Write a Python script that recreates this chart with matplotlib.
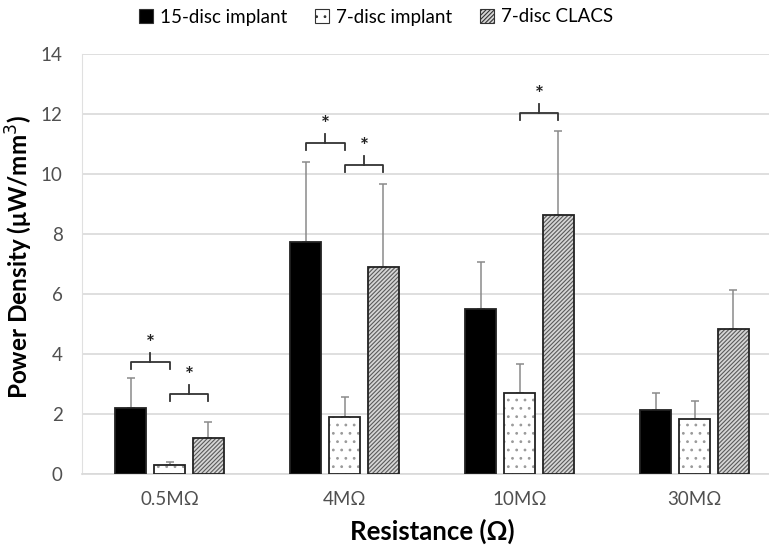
import matplotlib
matplotlib.use("Agg")
import matplotlib.pyplot as plt
from matplotlib.patches import Patch
import numpy as np

plt.rcParams['font.family'] = ['Lato', 'DejaVu Sans']
plt.rcParams['hatch.linewidth'] = 0.8

categories = ['0.5MΩ', '4MΩ', '10MΩ', '30MΩ']
series_names = ['15-disc implant', '7-disc implant', '7-disc CLACS']
means = {
    '15-disc implant': [2.21, 7.72, 5.50, 2.14],
    '7-disc implant': [0.29, 1.89, 2.71, 1.82],
    '7-disc CLACS': [1.19, 6.89, 8.64, 4.83],
}
errors = {
    '15-disc implant': [0.98, 2.69, 1.57, 0.55],
    '7-disc implant': [0.10, 0.67, 0.97, 0.60],
    '7-disc CLACS': [0.55, 2.78, 2.79, 1.31],
}
# significance brackets: (category index, bar i, bar j, height)
brackets = [(0, 0, 1, 3.72), (0, 1, 2, 2.66), (1, 0, 1, 11.03), (1, 1, 2, 10.30), (2, 1, 2, 12.03)]
yticks = [0, 2, 4, 6, 8, 10, 12, 14]

styles = {
    '15-disc implant': dict(face='black', hatch=None, hcol='black'),
    '7-disc implant': dict(face='white', hatch='..', hcol='#9a9a9a'),
    '7-disc CLACS': dict(face='#d6d6d6', hatch='////////', hcol='#5a5a5a'),
}

W, H = 769, 546
fig = plt.figure(figsize=(W / 100, H / 100), dpi=100)
ax = fig.add_axes([82 / W, 72 / H, 700 / W, 420 / H])

x = np.arange(len(categories))
bw = 0.177
step = 0.222
offsets = [-step, 0, step]

for k, name in enumerate(series_names):
    st = styles[name]
    xs = x + offsets[k]
    m = means[name]
    e = errors[name]
    ax.errorbar(xs, m, yerr=[np.zeros(len(m)), e], fmt='none', ecolor='#8a8a8a',
                elinewidth=1.1, capsize=3, capthick=1.1, zorder=2)
    ax.bar(xs, m, width=bw, color=st['face'], edgecolor=st['hcol'], hatch=st['hatch'],
           linewidth=0, zorder=3)
    ax.bar(xs, m, width=bw, fill=False, edgecolor='#222222', linewidth=1.3, zorder=4)

for (c, i, j, h) in brackets:
    x1 = c + offsets[i]
    x2 = c + offsets[j]
    xm = (x1 + x2) / 2
    tick = 0.22
    stem = 0.30
    ax.plot([x1, x1, x2, x2], [h - tick, h, h, h - tick], color='#333333', lw=1.3,
            solid_joinstyle='round', zorder=5)
    ax.plot([xm, xm], [h, h + stem], color='#333333', lw=1.3, zorder=5)
    ax.text(xm, h + stem - 0.02, '*', ha='center', va='bottom', fontsize=15,
            fontweight='bold', color='#222222', zorder=5)

ax.set_xlim(-0.5, len(categories) - 0.5)
ax.set_ylim(0, 14)
ax.set_yticks(yticks)
ax.set_xticks(x)
ax.set_xticklabels(categories)
ax.grid(axis='y', color='#d9d9d9', linewidth=1.2, zorder=0)
ax.set_axisbelow(True)
for s in ['top', 'right']:
    ax.spines[s].set_visible(False)
ax.spines['left'].set_color('#e0e0e0')
ax.spines['bottom'].set_color('#d9d9d9')
ax.spines['bottom'].set_linewidth(1.2)
ax.tick_params(axis='both', length=0, labelsize=13.5, colors='#505050')
ax.tick_params(axis='y', pad=14)
ax.tick_params(axis='x', pad=12)

ax.set_ylabel('Power Density (μW/mm$^3$)', fontsize=17.5, fontweight='bold')
ax.yaxis.set_label_coords(-47 / 700, 0.517)
ax.set_xlabel('Resistance (Ω)', fontsize=18.5, fontweight='bold', labelpad=8)

handles = [Patch(facecolor=styles[n]['face'], edgecolor='#333333', hatch=styles[n]['hatch'],
                 linewidth=0.8) for n in series_names]
fig.legend(handles, series_names, loc='center', bbox_to_anchor=(376 / W, 1 - 17 / H), ncol=3,
           frameon=False, fontsize=13.5, handlelength=0.75, handleheight=0.75, handletextpad=0.35,
           columnspacing=1.5)

fig.savefig('out.png', dpi=100)
